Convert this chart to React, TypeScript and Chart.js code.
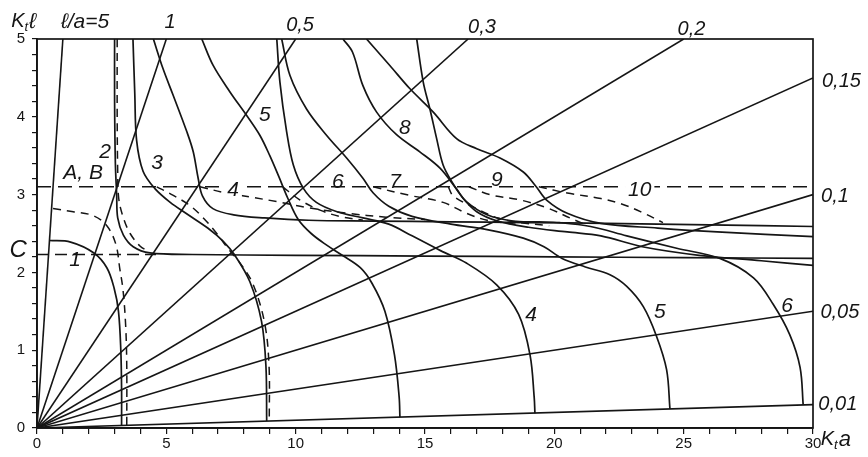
import React, { useEffect, useRef } from "react";
import { Chart, registerables } from "chart.js";
Chart.register(...registerables);

type Pt = [number, number];

// axes
const xMin = 0, xMax = 30, yMin = 0, yMax = 5;
const xTickStep = 1;
const yTickStep = 0.2;

// rays through the origin, slope = l/a
const rayRatios = [5, 1, 0.5, 0.3, 0.2, 0.15, 0.1, 0.05, 0.01];
const rayLabels = ["ℓ/a=5", "1", "0,5", "0,3", "0,2", "0,15", "0,1", "0,05", "0,01"];

// horizontal reference levels
const levelAB = 3.1;
const levelC = 2.23;
const levelCDashEnd = 4.6;

// solid curves (K_t a, K_t l)
const curve1: Pt[] = [[0.48, 2.41], [1.3, 2.39], [2.2, 2.25], [2.7, 2.06], [2.98, 1.8], [3.15, 1.5], [3.24, 1.0], [3.27, 0.5], [3.27, 0.033]];
const curve2: Pt[] = [[3.0, 5], [3.0, 4.2], [3.03, 3.4], [3.08, 3.0], [3.12, 2.7], [3.34, 2.48], [3.72, 2.33], [4.37, 2.25], [6, 2.23], [10, 2.22], [15, 2.21], [20, 2.2], [25, 2.19], [30, 2.18]];
const curve3: Pt[] = [[3.71, 5], [3.78, 4.3], [3.85, 3.7], [4.1, 3.3], [4.55, 3.08], [5.15, 2.9], [5.8, 2.75], [6.6, 2.57], [7.2, 2.4], [7.65, 2.22], [8.23, 1.88], [8.68, 1.37], [8.85, 0.8], [8.88, 0.09]];
const curve4: Pt[] = [[4.5, 5], [4.87, 4.62], [5.26, 4.28], [5.79, 3.81], [6.04, 3.55], [6.23, 3.21], [6.4, 2.98], [6.8, 2.82], [7.6, 2.74], [8.8, 2.7], [10.5, 2.67], [13, 2.66], [16, 2.65], [19, 2.64], [22, 2.63], [26, 2.61], [30, 2.59]];
const curve5: Pt[] = [[6.37, 5], [6.81, 4.66], [7.46, 4.32], [8.1, 4.02], [8.62, 3.76], [9.0, 3.5], [9.35, 3.23], [9.7, 2.95], [10.1, 2.68], [10.6, 2.5], [11.2, 2.35], [11.8, 2.22], [12.5, 2.06], [12.95, 1.86], [13.45, 1.5], [13.82, 0.94], [14.0, 0.4], [14.03, 0.14]];
const curve6: Pt[] = [[9.27, 5], [9.39, 4.45], [9.65, 3.81], [9.91, 3.38], [10.3, 3.08], [10.8, 2.9], [11.6, 2.78], [12.6, 2.7], [13.6, 2.62], [14.5, 2.47], [15.6, 2.28], [16.6, 2.12], [17.77, 1.84], [18.62, 1.46], [19.06, 0.94], [19.22, 0.4], [19.25, 0.19]];
const curve7: Pt[] = [[9.46, 5], [9.78, 4.53], [10.42, 4.1], [11.2, 3.76], [11.97, 3.47], [12.6, 3.21], [13.0, 3.02], [13.6, 2.85], [14.5, 2.72], [16, 2.62], [17.4, 2.55], [18.8, 2.44], [19.6, 2.33], [20.3, 2.18], [21.2, 2.07], [22.15, 1.97], [22.8, 1.82], [23.44, 1.56], [23.95, 1.18], [24.34, 0.75], [24.47, 0.245]];
const curve8: Pt[] = [[11.83, 5], [12.2, 4.83], [12.6, 4.4], [13.13, 4.06], [13.9, 3.77], [14.8, 3.55], [15.58, 3.34], [16.2, 3.08], [16.6, 2.91], [17.4, 2.74], [18.4, 2.66], [19.4, 2.65], [20.2, 2.64], [21.4, 2.59], [22.8, 2.47], [24.73, 2.31], [26.4, 2.18], [27.7, 1.93], [28.46, 1.59], [29.1, 1.2], [29.5, 0.78], [29.62, 0.3]];
const curve9: Pt[] = [[12.74, 5], [13.64, 4.66], [14.42, 4.36], [15.32, 4.06], [16.22, 3.72], [17.0, 3.59], [17.9, 3.47], [18.8, 3.29], [19.3, 3.1], [19.7, 2.93], [20.5, 2.76], [21.8, 2.63], [24, 2.57], [26.3, 2.52], [30, 2.46]];
const curve10: Pt[] = [[14.68, 5], [14.93, 4.45], [15.19, 4.1], [15.45, 3.72], [15.7, 3.38], [16.03, 3.17], [16.48, 2.95], [17.0, 2.78], [17.8, 2.66], [19, 2.58], [20.5, 2.52], [21.8, 2.47], [23.4, 2.33], [25.6, 2.22], [28, 2.15], [30, 2.09]];

// dashed curves
const dashed1: Pt[] = [[0.62, 2.82], [1.4, 2.78], [2.17, 2.73], [2.7, 2.6], [3.05, 2.36], [3.2, 2.05], [3.33, 1.76], [3.43, 1.3], [3.47, 0.8], [3.47, 0.035]];
const dashed2: Pt[] = [[3.1, 5], [3.1, 4.0], [3.12, 3.3], [3.16, 2.95], [3.34, 2.7], [3.6, 2.5], [3.98, 2.34], [4.3, 2.27]];
const dashed3: Pt[] = [[4.63, 3.1], [5.27, 2.99], [5.91, 2.86], [6.43, 2.7], [6.95, 2.5], [7.4, 2.3], [7.85, 2.12], [8.35, 1.85], [8.8, 1.35], [8.97, 0.8], [8.98, 0.09]];
const dashed4: Pt[] = [[6.3, 3.1], [7.33, 3.02], [8.23, 2.97], [9.27, 2.91], [10.5, 2.83], [12, 2.76], [13.5, 2.71], [15, 2.68]];
const dashed5: Pt[] = [[9.5, 3.1], [10.17, 2.93], [10.94, 2.8], [11.7, 2.72], [12.6, 2.67]];
const dashed6: Pt[] = [[13.0, 3.1], [14.4, 2.99], [15.7, 2.9], [16.6, 2.76], [17.4, 2.67], [18.5, 2.62]];
const dashed7: Pt[] = [[15.9, 3.1], [16.1, 2.98], [17.0, 2.82], [17.8, 2.7], [18.7, 2.64], [19.8, 2.6]];
const dashed8: Pt[] = [[16.7, 3.1], [17.5, 3.0], [18.7, 2.93], [19.8, 2.82], [20.6, 2.7], [21.1, 2.63]];
const dashed9: Pt[] = [[19.4, 3.1], [20.5, 3.02], [21.8, 2.95], [22.6, 2.88], [23.4, 2.77], [24.2, 2.64]];

// curve labels (text, K_t a, K_t l)
const curveLabelText = ["1", "2", "3", "4", "5", "6", "7", "8", "9", "10", "4", "5", "6", "A, B"];
const curveLabelX = [1.47, 2.63, 4.64, 7.58, 8.81, 11.63, 13.84, 14.22, 17.78, 23.3, 19.1, 24.08, 29.0, 1.78];
const curveLabelY = [2.16, 3.55, 3.41, 3.06, 4.02, 3.16, 3.16, 3.86, 3.19, 3.06, 1.45, 1.49, 1.56, 3.28];

const INK = "#151515";

export default function App() {
  const ref = useRef<HTMLCanvasElement>(null);
  useEffect(() => {
    if (!ref.current) return;
    const toXY = (pts: Pt[]) => pts.map(([x, y]) => ({ x, y }));
    const solid = [curve1, curve2, curve3, curve4, curve5, curve6, curve7, curve8, curve9, curve10];
    const dashed = [dashed1, dashed2, dashed3, dashed4, dashed5, dashed6, dashed7, dashed8, dashed9];
    const datasets: any[] = [];
    const base = { pointRadius: 0, showLine: true, borderColor: INK, fill: false };
    rayRatios.forEach((r) => {
      const end = r * xMax <= yMax ? { x: xMax, y: r * xMax } : { x: yMax / r, y: yMax };
      datasets.push({ ...base, data: [{ x: 0, y: 0 }, end], borderWidth: 1.6, tension: 0 });
    });
    datasets.push({ ...base, data: [{ x: xMin, y: levelAB }, { x: xMax, y: levelAB }], borderWidth: 1.6, borderDash: [14, 7], tension: 0 });
    datasets.push({ ...base, data: [{ x: xMin, y: levelC }, { x: levelCDashEnd, y: levelC }], borderWidth: 1.6, borderDash: [12, 6], tension: 0 });
    solid.forEach((c) => datasets.push({ ...base, data: toXY(c), borderWidth: 1.7, tension: 0.35 }));
    dashed.forEach((c) => datasets.push({ ...base, data: toXY(c), borderWidth: 1.5, borderDash: [8, 6], tension: 0.35 }));

    const labelPlugin = {
      id: "labels",
      afterDraw(chart: any) {
        const ctx = chart.ctx;
        const xs = chart.scales.x, ys = chart.scales.y;
        const px = (v: number) => xs.getPixelForValue(v);
        const py = (v: number) => ys.getPixelForValue(v);
        const ca = chart.chartArea;
        ctx.save();
        // frame
        ctx.strokeStyle = INK;
        ctx.lineWidth = 1.7;
        ctx.strokeRect(ca.left, ca.top, ca.right - ca.left, ca.bottom - ca.top);
        ctx.fillStyle = INK;
        ctx.textBaseline = "middle";
        // curve labels
        curveLabelText.forEach((t, i) => {
          ctx.font = 'italic 21px "Liberation Sans", sans-serif';
          ctx.textAlign = "center";
          const x = px(curveLabelX[i]), y = py(curveLabelY[i]);
          if ((t === "4" && i === 3) || t === "10") {
            const w = ctx.measureText(t).width;
            ctx.fillStyle = "#fff";
            ctx.fillRect(x - w / 2 - 3, y - 8, w + 6, 16);
            ctx.fillStyle = INK;
          }
          ctx.fillText(t, x, y);
        });
        // C label
        ctx.font = 'italic 24px "Liberation Sans", sans-serif';
        ctx.textAlign = "center";
        ctx.fillText("C", px(-0.73), py(2.29));
        // ray labels
        const rayLabelX = [1.86, 5.14, 10.17, 17.2, 25.3, 31.1, 30.85, 31.04, 30.96];
        const rayLabelY = [5.22, 5.21, 5.18, 5.15, 5.12, 4.45, 2.97, 1.49, 0.3];
        rayLabels.forEach((t, i) => {
          ctx.font = i === 0 ? 'italic 21px "Liberation Sans", sans-serif' : 'italic 20px "Liberation Sans", sans-serif';
          ctx.textAlign = "center";
          ctx.fillText(t, px(rayLabelX[i]), py(rayLabelY[i]));
        });
        // axis titles
        const sub = (x: number, y: number, b: string) => {
          ctx.textAlign = "left";
          ctx.font = 'italic 20px "Liberation Sans", sans-serif';
          ctx.fillText("K", x, y);
          let w = ctx.measureText("K").width;
          ctx.font = 'italic 13px "Liberation Sans", sans-serif';
          ctx.fillText("t", x + w, y + 6);
          w += ctx.measureText("t").width + 1;
          ctx.font = 'italic 22px "Liberation Sans", sans-serif';
          ctx.fillText(b, x + w, y);
        };
        sub(px(-1.0), py(5.22), "ℓ");
        sub(px(30.3), py(-0.15), "a");
        ctx.restore();
      },
    };

    const tickFont = { family: '"Liberation Sans", sans-serif', size: 15 };
    const chart = new Chart(ref.current, {
      type: "scatter",
      data: { datasets },
      options: {
        animation: false,
        responsive: true,
        maintainAspectRatio: false,
        layout: { padding: { top: 39, right: 55, left: 0, bottom: 0 } },
        plugins: { legend: { display: false }, tooltip: { enabled: false } },
        events: [],
        scales: {
          x: {
            type: "linear",
            min: xMin,
            max: xMax,
            afterFit: (s: any) => { s.height = 29; },
            ticks: {
              stepSize: xTickStep,
              autoSkip: false,
              maxRotation: 0,
              padding: 1,
              color: INK,
              font: tickFont,
              callback: (v: any) => (Math.abs(v % 5) < 1e-6 ? String(v) : ""),
            },
            grid: { drawOnChartArea: false, drawTicks: true, tickLength: 6, color: INK, lineWidth: 1.2 },
            border: { display: true, color: INK, width: 1.7 },
          },
          y: {
            type: "linear",
            min: yMin,
            max: yMax,
            afterFit: (s: any) => { s.width = 37; },
            ticks: {
              stepSize: yTickStep,
              autoSkip: false,
              padding: 7,
              color: INK,
              font: tickFont,
              callback: (v: any) => (Math.abs(v - Math.round(v)) < 1e-6 ? String(Math.round(v)) : ""),
            },
            grid: { drawOnChartArea: false, drawTicks: true, tickLength: 5, color: INK, lineWidth: 1.2 },
            border: { display: true, color: INK, width: 1.7 },
          },
        },
      } as any,
      plugins: [labelPlugin],
    });
    return () => chart.destroy();
  }, []);
  return (
    <div style={{ position: "fixed", left: 0, top: 0, width: 868, height: 457, background: "#fff" }}>
      <canvas ref={ref} />
    </div>
  );
}
